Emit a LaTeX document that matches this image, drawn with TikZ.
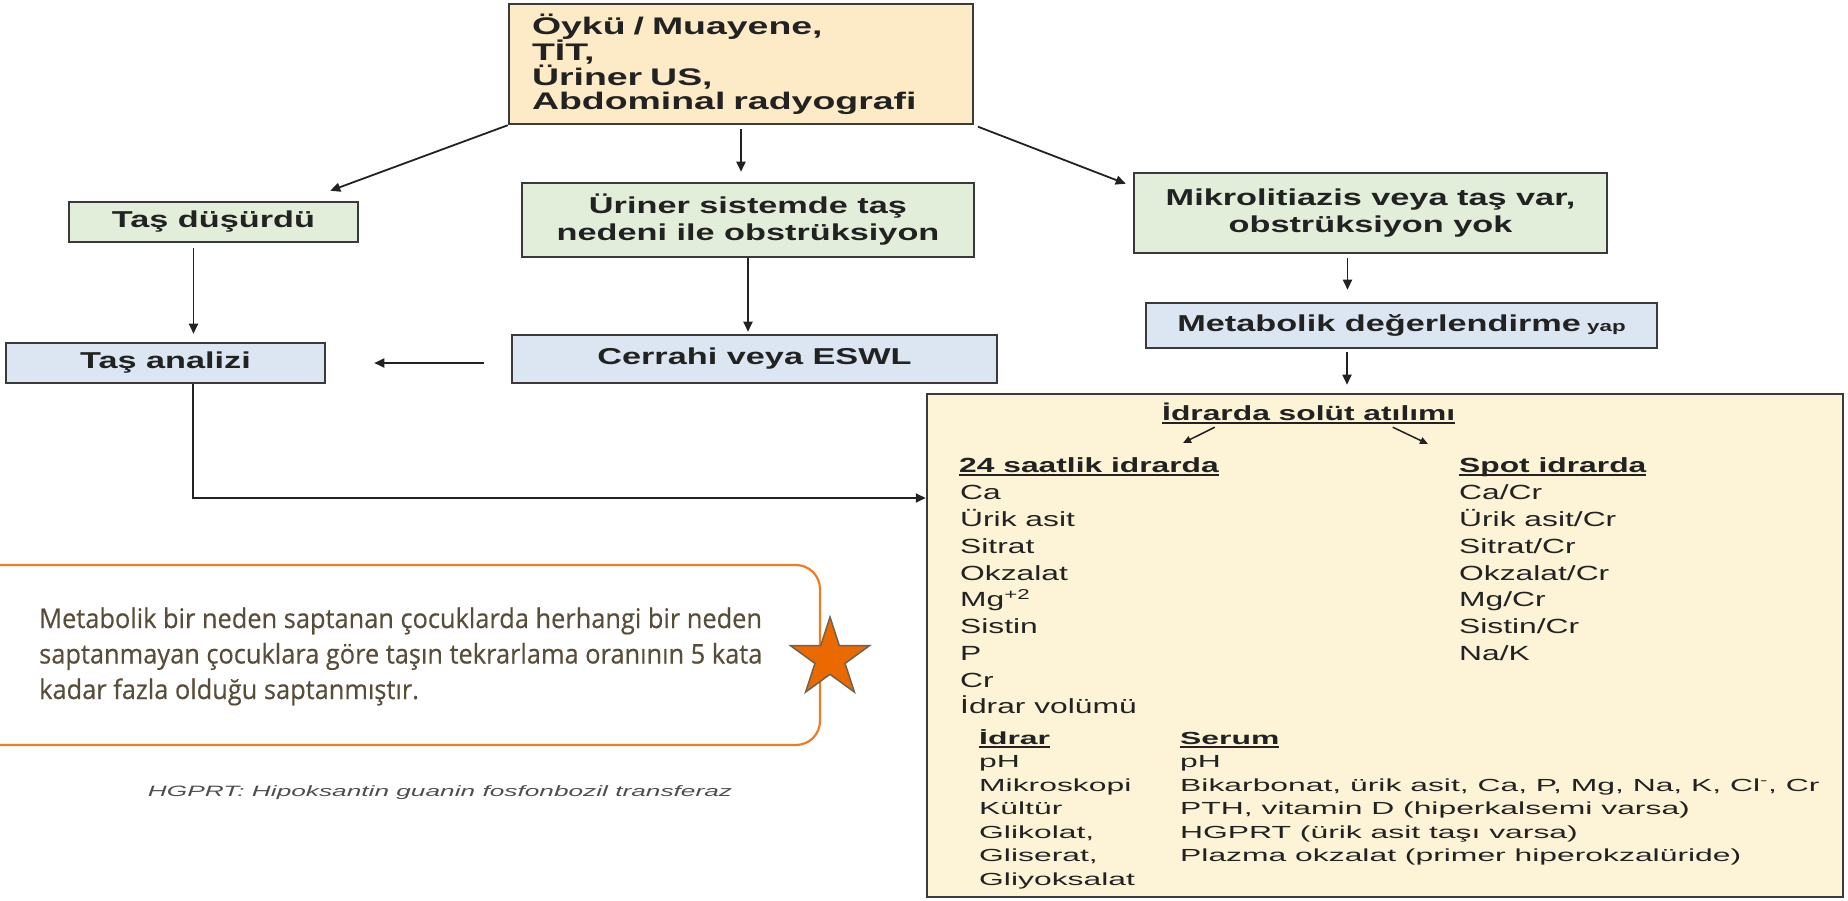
\documentclass[tikz,border=0pt]{standalone}
\usepackage{fontspec}
\setmainfont{Liberation Sans}
\newfontfamily\boxfont[FakeStretch=1.49]{Liberation Sans}
\newfontfamily\topfont[FakeStretch=1.56]{Liberation Sans}
\newfontfamily\listfont[FakeStretch=1.55]{Liberation Sans}
\newfontfamily\serumfont[FakeStretch=1.82]{Liberation Sans}
\newfontfamily\footfont[FakeStretch=1.75]{Liberation Sans}
\newfontfamily\notefont[FakeStretch=0.94,FakeBold=0.4]{Open Sans}
\usepackage{xcolor}
\usetikzlibrary{arrows.meta}
\usetikzlibrary{shapes.geometric}
\definecolor{topfill}{HTML}{FDEBC8}
\definecolor{bigfill}{HTML}{FDF3D7}
\definecolor{greenfill}{HTML}{E3EEDA}
\definecolor{bluefill}{HTML}{DCE6F2}
\definecolor{boxline}{HTML}{3A3A3A}
\definecolor{ink}{HTML}{222222}
\definecolor{noteorange}{HTML}{EE7C22}
\definecolor{notetext}{HTML}{584C3A}
\definecolor{starfill}{HTML}{EA6A00}
\definecolor{starline}{HTML}{6E6350}
\newcommand{\altini}[1]{\leavevmode\setbox0\hbox{#1}\rlap{\raisebox{-4pt}{\rule{\wd0}{1.8pt}}}\box0}

\begin{document}
\begin{tikzpicture}[x=1pt,y=-1pt,
      box/.style={draw=boxline,line width=2.5pt,inner sep=0pt,align=center,text=ink,
        font=\boxfont\bfseries\fontsize{23}{27}\selectfont},
      greenbox/.style={box,fill=greenfill},
      bluebox/.style={box,fill=bluefill},
      arr/.style={draw=ink,line width=1.8pt,-{Triangle[length=10pt,width=9pt]}},
      minarr/.style={draw=ink,line width=1.5pt,-{Triangle[length=8pt,width=7pt]}},
      item/.style={inner sep=0pt,anchor=base west,text=ink,font=\listfont\fontsize{20.5}{24}\selectfont},
      head/.style={item,font=\listfont\bfseries\fontsize{20.5}{24}\selectfont},
      small/.style={item,font=\serumfont\fontsize{17.5}{20}\selectfont},
      smallhead/.style={small,font=\serumfont\bfseries\fontsize{17.5}{20}\selectfont},
      notetxt/.style={inner sep=0pt,anchor=base west,text=notetext,font=\notefont\fontsize{27}{30}\selectfont}]

  \useasboundingbox (0,0) rectangle (1848,901);

  \node[box,fill=topfill,minimum width=464pt,minimum height=120pt,text width=418pt,align=left,
    font=\topfont\bfseries\fontsize{24}{23.6}\selectfont] (oyku) at (741,64)
    {Öykü / Muayene,\\TİT,\\Üriner US,\\Abdominal radyografi};

  \node[greenbox,minimum width=289pt,minimum height=40pt] (dusurdu) at (213.5,222) {Taş düşürdü};
  \node[greenbox,minimum width=452pt,minimum height=74pt] (obstr) at (748,220)
    {Üriner sistemde taş\\nedeni ile obstrüksiyon};
  \node[greenbox,minimum width=473pt,minimum height=80pt] (mikro) at (1370.5,213)
    {Mikrolitiazis veya taş var,\\obstrüksiyon yok};

  \node[bluebox,minimum width=319pt,minimum height=40pt] (analiz) at (165.5,363) {Taş analizi};
  \node[bluebox,minimum width=485pt,minimum height=48pt] (cerrahi) at (754.5,359) {Cerrahi veya ESWL};
  \node[bluebox,minimum width=511pt,minimum height=45pt] (metab) at (1401.5,325.5)
    {Metabolik değerlendirme{\fontsize{15}{18}\selectfont\ yap}};

  \node[box,fill=bigfill,minimum width=916pt,minimum height=503pt] (big) at (1385,645.5) {};

  \draw[arr] (oyku.south west) -- ([xshift=-29pt,yshift=10pt]dusurdu.north east);
  \draw[arr,shorten <=4pt,shorten >=10pt] (oyku.south) -- (oyku.south |- obstr.north);
  \draw[arr,shorten <=4pt] (oyku.south east) -- ([xshift=-7pt,yshift=-12pt]mikro.north west);
  \draw[arr,shorten <=5pt,shorten >=8pt] ([xshift=-20pt]dusurdu.south) -- ([xshift=-20pt]dusurdu.south |- analiz.north);
  \draw[arr,shorten >=2pt] (obstr.south) -- (obstr.south |- cerrahi.north);
  \draw[arr,shorten <=27pt,shorten >=48pt] (analiz.east -| cerrahi.west) -- (analiz.east);
  \draw[arr,shorten <=4pt,shorten >=12pt] ([xshift=-23pt]mikro.south) -- ([xshift=-23pt]mikro.south |- metab.north);
  \draw[arr,shorten <=3pt,shorten >=8pt] (metab.south -| 1347,0) -- (big.north -| 1347,0);
  \draw[arr] ([xshift=27.5pt]analiz.south) |- ([yshift=147.5pt]big.west);

  \node[head] (baslik) at (1162,420) {\altini{İdrarda solüt atılımı}};
  \node[head] (h24) at (959,472) {\altini{24 saatlik idrarda}};
  \node[head] (hspot) at (1459,472) {\altini{Spot idrarda}};
  \coordinate (u24) at (1183,443);
  \coordinate (uspot) at (1428,444);
  \draw[minarr] ([xshift=-94pt,yshift=-3pt]baslik.south) -- (u24);
  \draw[minarr] ([xshift=84pt,yshift=-3pt]baslik.south) -- (uspot);

  \foreach \t [count=\i] in {Ca,Ürik asit,Sitrat,Okzalat,Mg\textsuperscript{+2},Sistin,P,Cr,İdrar volümü}
    \node[item] (sol\i) at (960,{473+26.75*\i}) {\t};
  \foreach \t [count=\i] in {Ca/Cr,Ürik asit/Cr,Sitrat/Cr,Okzalat/Cr,Mg/Cr,Sistin/Cr,Na/K}
    \node[item] (sag\i) at (1459,{473+26.75*\i}) {\t};

  \node[smallhead] (hidrar) at (979,744) {\altini{İdrar}};
  \node[smallhead] (hserum) at (1180,744) {\altini{Serum}};
  \foreach \t [count=\i] in {pH,Mikroskopi,Kültür,{Glikolat,},{Gliserat,},Gliyoksalat}
    \node[small] (idr\i) at (979,{744+23.5*\i}) {\t};
  \foreach \t [count=\i] in {pH,{Bikarbonat, ürik asit, Ca, P, Mg, Na, K, Cl\textsuperscript{-}, Cr},
      PTH{,} vitamin D (hiperkalsemi varsa),HGPRT (ürik asit taşı varsa),
      Plazma okzalat (primer hiperokzalüride)}
    \node[small] (ser\i) at (1180,{744+23.5*\i}) {\t};

  \node[draw=noteorange,line width=2.2pt,rounded corners=24pt,minimum width=850pt,minimum height=180pt] (note) at (395,655) {};
  \foreach \t [count=\i] in {Metabolik bir neden saptanan çocuklarda herhangi bir neden,
      saptanmayan çocuklara göre taşın tekrarlama oranının 5 kata,
      kadar fazla olduğu saptanmıştır.}
    \node[notetxt] (not\i) at (39,{592.5+35.5*\i}) {\t};
  \node[star,star points=5,star point ratio=2.618,minimum size=83pt,inner sep=0pt,
    fill=starfill,draw=starline,line width=1.5pt] (yildiz) at (830,658.5) {};

  \node[text=ink!80,font=\footfont\itshape\fontsize{15}{18}\selectfont] (dipnot) at (440,793)
    {HGPRT: Hipoksantin guanin fosfonbozil transferaz};
\end{tikzpicture}
\end{document}
